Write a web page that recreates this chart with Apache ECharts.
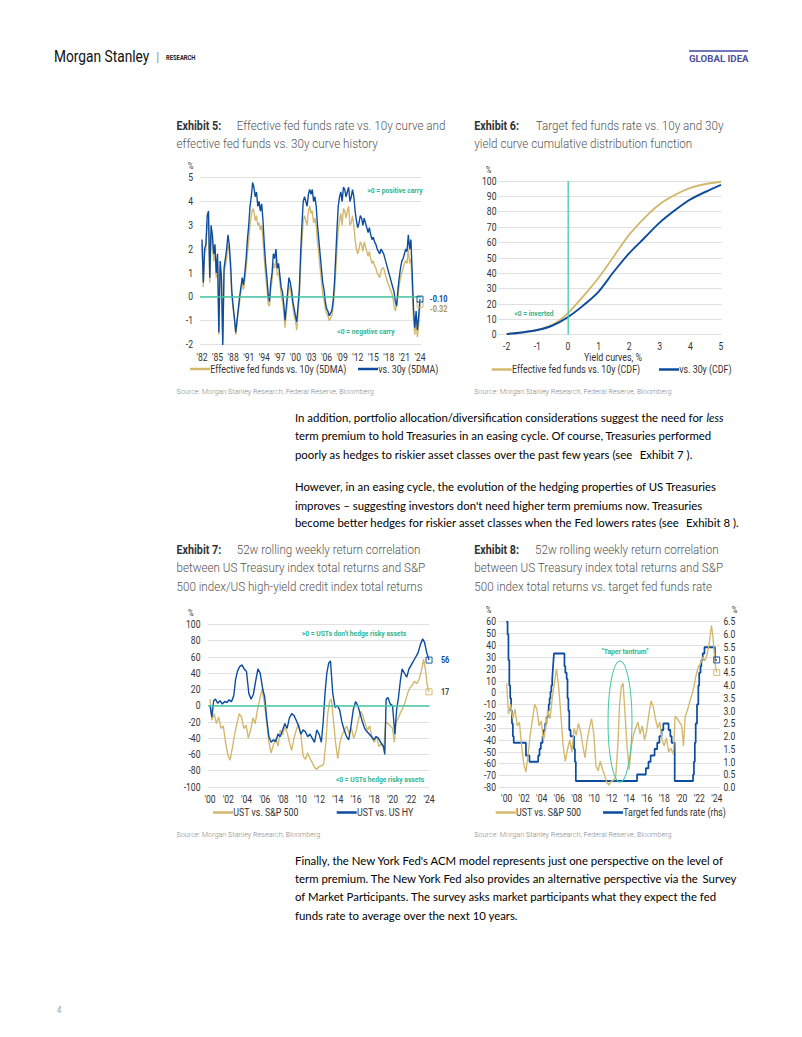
<!DOCTYPE html>
<html><head><meta charset="utf-8">
<script src="https://cdn.jsdelivr.net/npm/echarts@6.0.0/dist/echarts.min.js"></script>
<style>
html,body{margin:0;padding:0;background:#fff;overflow:hidden;width:802px;height:1037px}
#c{position:absolute;left:0;top:0;width:933px;height:1037px;transform:scaleX(0.859593);transform-origin:0 0}
</style></head><body><div id="c"></div>
<script>
// ---------------- DATA ----------------
// Exhibit 5: quarterly readings from 1982.00, step 0.25 yr
const ex5Start = 1982, ex5Step = 0.25;
const ex5Vs10y = [
 2.2,0.4,1.8,2.0, 3.0,3.2,0.6,2.6, 2.3,1.5,1.9,0.8, 1.5,-1.6,1.3,0.6, -1.8,1.0,1.3,1.6,
 2.2,1.9,1.1,0.0, -0.5,-1.0,-1.6,-1.1, -0.6,-0.2,0.2,0.6, 0.3,0.7,1.2,1.8, 2.4,3.0,3.4,3.7,
 3.6,3.2,3.4,3.0, 3.1,2.8,3.0,2.4, 1.6,0.9,0.4,-0.3, -0.4,0.3,0.7,1.4, 1.2,1.6,0.9,1.0,
 0.6,0.1,-0.2,-0.6, -1.3,-0.7,-0.1,0.5, 0.3,0.0,-0.4,-0.8, -1.0,-1.4,-0.7,0.0, 1.2,2.3,3.2,3.4,
 3.2,3.0,3.6,3.8, 3.5,3.6,3.1,3.3, 3.0,2.3,1.8,1.2, 0.7,0.1,-0.1,-0.5, -0.7,-0.8,-1.0,-0.9,
 -0.8,-0.5,0.1,1.0, 2.0,2.8,3.2,3.5, 3.0,3.7,3.6,3.3, 3.6,3.8,3.0,3.1, 3.4,3.0,2.4,2.0,
 1.8,2.0,2.3,2.2, 1.9,2.3,2.1,1.9, 1.7,1.9,1.6,1.4, 1.5,1.3,1.2,1.0, 0.9,0.8,1.1,1.2,
 1.2,1.0,0.8,0.6, 0.5,0.3,0.2,0.0, -0.4,-0.6,-0.3,0.0, 0.5,0.8,1.0,1.2, 1.4,1.5,1.4,2.0,
 1.4,1.6,0.4,-1.0, -1.6,-1.0,-1.7,-1.2, -0.32];
const ex5Vs30y = [
 2.4,0.6,2.0,2.2, 3.4,3.6,0.8,3.0, 2.6,1.8,2.2,1.0, 1.8,-1.5,1.5,0.8, -2.1,1.2,1.6,2.0,
 2.6,2.2,1.4,0.2, -0.4,-0.9,-1.5,-1.0, -0.5,0.0,0.4,0.8, 0.5,1.0,1.6,2.4, 3.0,3.8,4.2,4.8,
 4.6,4.2,4.4,3.8, 4.0,3.6,3.9,3.2, 2.2,1.4,0.8,0.1, -0.2,0.6,1.0,1.8, 1.6,2.0,1.2,1.4,
 0.9,0.4,0.2,-0.3, -1.0,-0.4,0.2,0.8, 0.6,0.3,-0.2,-0.5, -0.8,-1.05,-0.4,0.3, 1.8,3.0,4.0,4.2,
 4.0,3.8,4.3,4.5, 4.3,4.5,4.0,4.2, 3.8,3.0,2.4,1.8, 1.2,0.6,0.3,-0.2, -0.5,-0.6,-0.8,-0.7,
 -0.6,-0.2,0.5,1.6, 2.8,3.8,4.2,4.4, 4.0,4.6,4.5,4.2, 4.4,4.6,4.0,4.2, 4.5,4.2,3.6,3.2,
 2.9,3.1,3.4,3.3, 3.0,3.3,3.1,2.9, 2.7,2.9,2.6,2.4, 2.5,2.3,2.2,2.0, 1.9,1.8,2.0,1.9,
 1.8,1.6,1.4,1.2, 1.0,0.8,0.6,0.4, 0.2,-0.2,-0.4,0.3, 0.8,1.2,1.5,1.6, 1.8,2.0,1.9,2.6,
 2.0,2.4,1.0,-0.5, -1.3,-0.6,-1.4,-0.8, -0.10];
const ex5Ticks = [1982,1985,1988,1991,1994,1997,2000,2003,2006,2009,2012,2015,2018,2021,2024];

// Exhibit 6: CDF (%)
const cdfX   = [-2,-1.5,-1,-0.5,0,0.5,1,1.5,2,2.5,3,3.5,4,4.5,5];
const cdf10y = [0.5,1.5,3,6.5,14,25,37,51,65,76,85,91,95.5,98,99.5];
const cdf30y = [0.5,1.5,3,6,11.5,19,28,41,53,63,73,81,88,93,97.5];
const cdfTicks = [-2,-1,0,1,2,3,4,5];

// Exhibit 7 / 8: [year, correlation %]
const ustSpx = [[2000.0,8],[2000.2,-18],[2000.45,-10],[2000.7,-22],[2000.95,-14],[2001.2,-28],[2001.45,-25],[2001.7,-45],[2001.95,-60],[2002.2,-67],[2002.45,-52],[2002.7,-35],[2002.95,-22],[2003.2,-10],[2003.45,-14],[2003.7,-28],[2003.95,-24],[2004.2,-40],[2004.45,-30],[2004.7,-15],[2004.95,-22],[2005.2,-5],[2005.45,8],[2005.7,20],[2005.95,4],[2006.2,-20],[2006.45,-45],[2006.7,-58],[2006.95,-48],[2007.2,-40],[2007.45,-50],[2007.7,-30],[2007.95,-36],[2008.2,-26],[2008.45,-33],[2008.7,-45],[2008.95,-55],[2009.2,-40],[2009.45,-30],[2009.7,-22],[2009.95,-35],[2010.2,-62],[2010.45,-66],[2010.7,-58],[2010.95,-65],[2011.2,-70],[2011.45,-76],[2011.7,-78],[2011.95,-75],[2012.2,-74],[2012.45,-72],[2012.7,-45],[2012.9,-10],[2013.1,5],[2013.3,8],[2013.5,-15],[2013.75,-45],[2014.0,-65],[2014.25,-45],[2014.5,-35],[2014.75,-30],[2015.0,-25],[2015.25,-35],[2015.5,-28],[2015.75,-40],[2016.0,-32],[2016.25,-18],[2016.5,-7],[2016.75,-12],[2017.0,-22],[2017.25,-30],[2017.5,-25],[2017.75,-40],[2018.0,-45],[2018.25,-38],[2018.5,-50],[2018.75,-47],[2019.05,-52],[2019.25,-20],[2019.5,-22],[2019.75,-25],[2020.0,-28],[2020.2,-45],[2020.4,-20],[2020.65,-15],[2020.9,-8],[2021.15,-2],[2021.4,5],[2021.65,15],[2021.9,22],[2022.15,25],[2022.4,30],[2022.65,27],[2022.9,32],[2023.15,42],[2023.4,57],[2023.6,45],[2023.8,25],[2024.0,17]];
const ustHy = [[2000.0,0],[2000.2,-14],[2000.4,6],[2000.6,8],[2000.85,3],[2001.1,6],[2001.35,2],[2001.6,5],[2001.85,4],[2002.1,7],[2002.35,5],[2002.6,12],[2002.8,32],[2003.0,42],[2003.25,48],[2003.5,50],[2003.75,45],[2004.0,42],[2004.25,15],[2004.5,8],[2004.75,14],[2005.0,30],[2005.25,45],[2005.5,40],[2005.75,22],[2006.0,10],[2006.2,-15],[2006.45,-38],[2006.7,-45],[2006.95,-42],[2007.2,-44],[2007.45,-35],[2007.7,-38],[2007.95,-30],[2008.2,-22],[2008.45,-28],[2008.7,-15],[2008.95,-10],[2009.2,-12],[2009.45,-18],[2009.7,-25],[2009.95,-35],[2010.2,-30],[2010.45,-32],[2010.7,-38],[2010.95,-35],[2011.2,-40],[2011.45,-45],[2011.7,-30],[2011.95,-35],[2012.2,-45],[2012.4,-20],[2012.6,15],[2012.8,40],[2013.0,52],[2013.2,55],[2013.45,15],[2013.7,-2],[2013.95,0],[2014.2,-5],[2014.45,-20],[2014.7,-30],[2014.95,-38],[2015.2,-42],[2015.45,-25],[2015.7,-5],[2015.95,5],[2016.2,0],[2016.45,-10],[2016.7,-20],[2016.95,-28],[2017.2,-32],[2017.45,-35],[2017.7,-38],[2017.95,-42],[2018.2,-38],[2018.45,-40],[2018.7,-45],[2019.0,-50],[2019.15,-60],[2019.3,8],[2019.5,10],[2019.75,2],[2020.0,0],[2020.25,-35],[2020.45,-5],[2020.65,10],[2020.85,30],[2021.05,45],[2021.3,40],[2021.55,35],[2021.8,45],[2022.05,50],[2022.3,55],[2022.55,60],[2022.8,65],[2023.05,75],[2023.3,82],[2023.5,78],[2023.75,65],[2024.0,56]];
// Exhibit 8: target fed funds rate (%), value from the given year on
const fedFunds = [[1999.95,6.5],[2000.1,6.0],[2000.2,5.0],[2000.3,4.0],[2000.4,3.5],[2000.5,3.0],[2000.6,2.5],[2000.7,2.0],[2000.8,1.75],[2002.2,1.25],[2002.6,1.0],[2003.6,1.25],[2003.75,1.5],[2003.9,1.75],[2004.1,2.0],[2004.25,2.25],[2004.4,2.5],[2004.55,2.75],[2004.7,3.0],[2004.8,3.25],[2004.9,3.5],[2005.0,3.75],[2005.1,4.0],[2005.2,4.25],[2005.25,4.5],[2005.3,4.75],[2005.35,5.0],[2005.4,5.25],[2006.6,4.75],[2006.7,4.5],[2006.85,4.25],[2006.95,3.5],[2007.05,3.0],[2007.15,2.25],[2007.3,2.0],[2007.7,1.5],[2007.8,1.0],[2007.9,0.25],[2014.9,0.5],[2015.9,0.75],[2016.2,1.0],[2016.45,1.25],[2016.9,1.5],[2017.2,1.75],[2017.45,2.0],[2017.7,2.25],[2017.9,2.5],[2018.5,2.25],[2018.7,2.0],[2018.85,1.75],[2019.2,0.25],[2021.3,0.5],[2021.4,1.0],[2021.5,1.75],[2021.6,2.5],[2021.75,3.25],[2021.9,4.0],[2022.0,4.5],[2022.15,4.75],[2022.25,5.0],[2022.4,5.25],[2022.6,5.5],[2023.8,5.0],[2024.0,5.0]];
const ex78Ticks = [2000,2002,2004,2006,2008,2010,2012,2014,2016,2018,2020,2022,2024];

// ---------------- LAYOUT / STYLE ----------------
const CW = 933, S = 802 / CW;
const X = p => p / S;
const FONT = 'Roboto, "Noto Sans", sans-serif';
const BODY = 'Lato, "Open Sans", sans-serif';
const GOLD = '#D3B96E', BLUE = '#0B4C9F', TEAL = '#45C9A6', GRIDC = '#DEDEDE';
const yr = v => "'" + String(Math.round(v)).slice(2);

const ex5Pts10 = ex5Vs10y.map((v, i) => [ex5Start + i * ex5Step, v]);
const ex5Pts30 = ex5Vs30y.map((v, i) => [ex5Start + i * ex5Step, v]);
const last = a => a[a.length - 1];

const lbl = {fontFamily: FONT, fontSize: 10, color: '#333'};
function xAx(g, min, max, ticks, fmt, margin) {
  return {type: 'value', gridIndex: g, min, max,
    axisLine: {show: false}, axisTick: {show: false}, splitLine: {show: false},
    axisLabel: Object.assign({customValues: ticks, formatter: fmt, margin}, lbl)};
}
function yAx(g, min, max, interval, margin, extra) {
  return Object.assign({type: 'value', gridIndex: g, min, max, interval,
    axisLine: {show: false}, axisTick: {show: false},
    splitLine: {show: true, lineStyle: {color: GRIDC, width: 1}},
    axisLabel: Object.assign({margin}, lbl)}, extra || {});
}
function box(color, pt) {
  return {symbol: 'rect', symbolSize: [X(6), 6], silent: true,
    itemStyle: {color: 'rgba(255,255,255,0)', borderColor: color, borderWidth: 1},
    label: {show: false}, data: [{coord: pt}]};
}
function zeroLine(axis) {
  const d = {}; d[axis] = 0;
  return {silent: true, symbol: 'none', label: {show: false},
    lineStyle: {color: TEAL, width: 1.5, type: 'solid'}, data: [d]};
}
function leg(name, lx, cy) {
  return {data: [name], left: X(lx), top: cy - 6, icon: 'rect', itemWidth: X(20), itemHeight: 2.5,
    padding: 0, itemGap: 0, selectedMode: false,
    textStyle: {fontFamily: FONT, fontSize: 10.3, color: '#333', padding: [0, 0, 0, -X(4)]}};
}
function T(x, y, text, o, sx) {
  const e = {type: 'text', x: X(x), y: y, z: 20, silent: true,
    style: Object.assign({text: text, fontFamily: FONT, fontSize: 10, fill: '#333', align: 'left', verticalAlign: 'middle'}, o || {})};
  if (sx) e.scaleX = sx;
  return e;
}
const BF = 11.4;
function R(x, y, parts) {
  const rich = {
    n: {fontFamily: BODY, fontSize: BF, color: '#333'},
    i: {fontFamily: BODY, fontSize: BF, color: '#333', fontStyle: 'italic'},
    a: {fontFamily: BODY, fontSize: BF, color: '#3A6DB4'}
  };
  const txt = parts.map(p => '{' + p[1] + '|' + p[0] + '}').join('');
  return {type: 'text', x: X(x), y: y, z: 20, silent: true, scaleX: 1 / S,
    style: {text: txt, rich: rich, fontFamily: BODY, fontSize: BF, align: 'left', verticalAlign: 'middle'}};
}
const titleB = {fontSize: 12.5, fontWeight: 'bold', fill: '#333'};
const titleL = {fontSize: 12.5, fontWeight: 300, fill: '#555'};
const TL = 1.085;
const src = {fontSize: 8, fontWeight: 300, fill: '#888'};
const ann = {fontSize: 7.8, fontWeight: 'bold', fill: '#2FB58F'};

const elements = [
  // header
  T(54, 57, 'Morgan Stanley', {fontSize: 16, fill: '#111'}),
  T(156.5, 57, '|', {fontSize: 12, fill: '#777'}),
  T(166, 57.5, 'RESEARCH', {fontSize: 6.8, fontWeight: 'bold', fill: '#222'}),
  {type: 'rect', z: 20, silent: true, shape: {x: X(689), y: 50, width: X(59), height: 2}, style: {fill: '#7276BD'}},
  T(689, 58.5, 'GLOBAL IDEA', {fontSize: 9.8, fontWeight: 'bold', fill: '#4B50A0'}, 1.15),
  // exhibit titles
  T(176.5, 126, 'Exhibit 5:', titleB), T(236.7, 126, 'Effective fed funds rate vs. 10y curve and', titleL, TL),
  T(176.5, 144, 'effective fed funds vs. 30y curve history', titleL, TL),
  T(474.3, 126, 'Exhibit 6:', titleB), T(535.7, 126, 'Target fed funds rate vs. 10y and 30y', titleL, TL),
  T(474.3, 144, 'yield curve cumulative distribution function', titleL, TL),
  T(176.5, 550, 'Exhibit 7:', titleB), T(236.7, 550, '52w rolling weekly return correlation', titleL, TL),
  T(176.5, 568.3, 'between US Treasury index total returns and S&P', titleL, TL),
  T(176.5, 586.5, '500 index/US high-yield credit index total returns', titleL, TL),
  T(474.3, 550, 'Exhibit 8:', titleB), T(535, 550, '52w rolling weekly return correlation', titleL, TL),
  T(474.3, 568.3, 'between US Treasury index total returns and S&P', titleL, TL),
  T(474.3, 586.5, '500 index total returns vs. target fed funds rate', titleL, TL),
  // unit labels
  T(190.5, 165.5, '%', {fontSize: 9, align: 'center'}),
  T(488.5, 169.5, '%', {fontSize: 9, align: 'center'}),
  T(190.7, 613, '%', {fontSize: 9, align: 'center'}),
  T(488.5, 610, '%', {fontSize: 9, align: 'center'}),
  T(734.5, 610, '%', {fontSize: 9, align: 'center'}),
  T(613, 357.5, 'Yield curves, %', {fontSize: 10.3, align: 'center'}),
  // annotations
  T(395, 190, '>0 = positive carry', Object.assign({align: 'center'}, ann)),
  T(366, 331.7, '<0 = negative carry', Object.assign({align: 'center'}, ann)),
  T(534, 313, '<0 = inverted', Object.assign({align: 'center'}, ann)),
  T(354, 633, ">0 = USTs don't hedge risky assets", Object.assign({align: 'center'}, ann)),
  T(380, 779, '<0 = USTs hedge risky assets', Object.assign({align: 'center'}, ann)),
  T(625, 651.7, '"Taper tantrum"', Object.assign({align: 'center'}, ann)),
  {type: 'ellipse', z: 20, silent: true, shape: {cx: X(620), cy: 721.5, rx: X(12), ry: 60.5},
   style: {fill: 'none', stroke: TEAL, lineWidth: 1.2}},
  // sources
  T(176.5, 391, 'Source: Morgan Stanley Research, Federal Reserve, Bloomberg', src, 1.05),
  T(474.3, 391, 'Source: Morgan Stanley Research, Federal Reserve, Bloomberg', src, 1.05),
  T(176.5, 834, 'Source: Morgan Stanley Research, Bloomberg', src, 1.05),
  T(474.3, 834, 'Source: Morgan Stanley Research, Federal Reserve, Bloomberg', src, 1.05),
  // body text
  R(295, 417.3, [['In addition, portfolio allocation/diversification considerations suggest the need for ', 'n'], ['less', 'i']]),
  R(295, 435.8, [['term premium to hold Treasuries in an easing cycle. Of course, Treasuries performed', 'n']]),
  R(295, 454.3, [['poorly as hedges to riskier asset classes over the past few years (see ', 'n'], [' Exhibit 7', 'a'], [' ).', 'n']]),
  R(295, 486.7, [['However, in an easing cycle, the evolution of the hedging properties of US Treasuries', 'n']]),
  R(295, 505, [["improves \u2013 suggesting investors don't need higher term premiums now. Treasuries", 'n']]),
  R(295, 522.8, [['become better hedges for riskier asset classes when the Fed lowers rates (see ', 'n'], [' Exhibit 8', 'a'], [' ).', 'n']]),
  R(295, 860, [["Finally, the New York Fed's ACM model represents just one perspective on the level of", 'n']]),
  R(295, 878.3, [['term premium. The New York Fed also provides an alternative perspective via the ', 'n'], ['Survey', 'a']]),
  R(295, 896.7, [['of Market Participants', 'a'], ['. The survey asks market participants what they expect the fed', 'n']]),
  R(295, 915.3, [['funds rate to average over the next 10 years.', 'n']]),
  T(57, 1010, '4', {fontSize: 9, fill: '#999'})
];

function gridRect(l, t, r, b) { return {left: X(l), top: t, width: X(r) - X(l), height: b - t}; }

const option = {
  animation: false,
  backgroundColor: '#fff',
  grid: [gridRect(200, 177.7, 421.5, 344.3), gridRect(498, 181, 721.7, 334.7),
         gridRect(208, 624.3, 429.5, 787), gridRect(498.5, 621.7, 720, 787.3)],
  xAxis: [
    xAx(0, 1981.615, 2024.29, ex5Ticks, yr, 8),
    xAx(1, -2.284, 5.023, cdfTicks, v => String(v), 7),
    xAx(2, 1999.78, 2024.05, ex78Ticks, yr, 7),
    xAx(3, 1999.063, 2024.377, ex78Ticks, yr, 6)
  ],
  yAxis: [
    yAx(0, -2, 5, 1, X(7)),
    yAx(1, 0, 100, 10, X(1.5)),
    yAx(2, -100, 100, 20, X(7.5)),
    yAx(3, -80, 60, 10, X(2.5)),
    yAx(3, 0, 6.5, 0.5, X(3.5), {position: 'right', splitLine: {show: false},
      axisLabel: Object.assign({margin: X(3.5), formatter: v => v.toFixed(1)}, lbl)})
  ],
  legend: [
    leg('Effective fed funds vs. 10y (5DMA)', 190, 370),
    leg('vs. 30y (5DMA)', 358, 370),
    leg('Effective fed funds vs. 10y (CDF)', 491.7, 370.5),
    leg('vs. 30y (CDF)', 659, 370.5),
    leg('UST vs. S&P 500', 213, 813.5),
    leg('UST vs. US HY', 336.7, 813.5),
    leg('UST vs. S&P 500', 495.7, 813.5),
    leg('Target fed funds rate (rhs)', 603, 813.5)
  ],
  series: [
    {type: 'line', name: 'Effective fed funds vs. 10y (5DMA)', xAxisIndex: 0, yAxisIndex: 0, data: ex5Pts10,
     symbol: 'none', lineStyle: {color: GOLD, width: 1.6}, itemStyle: {color: GOLD},
     endLabel: {show: true, formatter: p => p.value[1].toFixed(2), color: '#B4964A', fontFamily: FONT, fontSize: 8.5, fontWeight: 'bold', offset: [X(3), 5]},
     markPoint: box(GOLD, last(ex5Pts10))},
    {type: 'line', name: 'vs. 30y (5DMA)', xAxisIndex: 0, yAxisIndex: 0, data: ex5Pts30,
     symbol: 'none', lineStyle: {color: BLUE, width: 1.6}, itemStyle: {color: BLUE},
     endLabel: {show: true, formatter: p => p.value[1].toFixed(2), color: BLUE, fontFamily: FONT, fontSize: 8.5, fontWeight: 'bold', offset: [X(3), 0]},
     markPoint: box(BLUE, last(ex5Pts30)), markLine: zeroLine('yAxis')},
    {type: 'line', name: 'Effective fed funds vs. 10y (CDF)', xAxisIndex: 1, yAxisIndex: 1, smooth: 0.3,
     data: cdfX.map((x, i) => [x, cdf10y[i]]), symbol: 'none', lineStyle: {color: GOLD, width: 2}, itemStyle: {color: GOLD}},
    {type: 'line', name: 'vs. 30y (CDF)', xAxisIndex: 1, yAxisIndex: 1, smooth: 0.3,
     data: cdfX.map((x, i) => [x, cdf30y[i]]), symbol: 'none', lineStyle: {color: BLUE, width: 2}, itemStyle: {color: BLUE},
     markLine: zeroLine('xAxis')},
    {type: 'line', name: 'UST vs. S&P 500', xAxisIndex: 2, yAxisIndex: 2, data: ustSpx,
     symbol: 'none', lineStyle: {color: GOLD, width: 1.6}, itemStyle: {color: GOLD},
     endLabel: {show: true, formatter: p => String(Math.round(p.value[1])), color: '#444', fontFamily: FONT, fontSize: 8.5, fontWeight: 'bold', offset: [X(5), 0]},
     markPoint: box(GOLD, last(ustSpx))},
    {type: 'line', name: 'UST vs. US HY', xAxisIndex: 2, yAxisIndex: 2, data: ustHy,
     symbol: 'none', lineStyle: {color: BLUE, width: 1.6}, itemStyle: {color: BLUE},
     endLabel: {show: true, formatter: p => String(Math.round(p.value[1])), color: BLUE, fontFamily: FONT, fontSize: 8.5, fontWeight: 'bold', offset: [X(5), 0]},
     markPoint: box(BLUE, last(ustHy)), markLine: zeroLine('yAxis')},
    {type: 'line', name: 'Target fed funds rate (rhs)', xAxisIndex: 3, yAxisIndex: 4, data: fedFunds, step: 'end',
     symbol: 'none', lineStyle: {color: BLUE, width: 2}, itemStyle: {color: BLUE},
     markPoint: box(BLUE, last(fedFunds))},
    {type: 'line', name: 'UST vs. S&P 500', xAxisIndex: 3, yAxisIndex: 3, data: ustSpx,
     symbol: 'none', lineStyle: {color: GOLD, width: 1.6}, itemStyle: {color: GOLD},
     markPoint: box(GOLD, last(ustSpx))}
  ],
  graphic: {elements: elements}
};
const chart = echarts.init(document.getElementById('c'), null, {renderer: 'svg', width: CW, height: 1037});
chart.setOption(option);
</script></body></html>
